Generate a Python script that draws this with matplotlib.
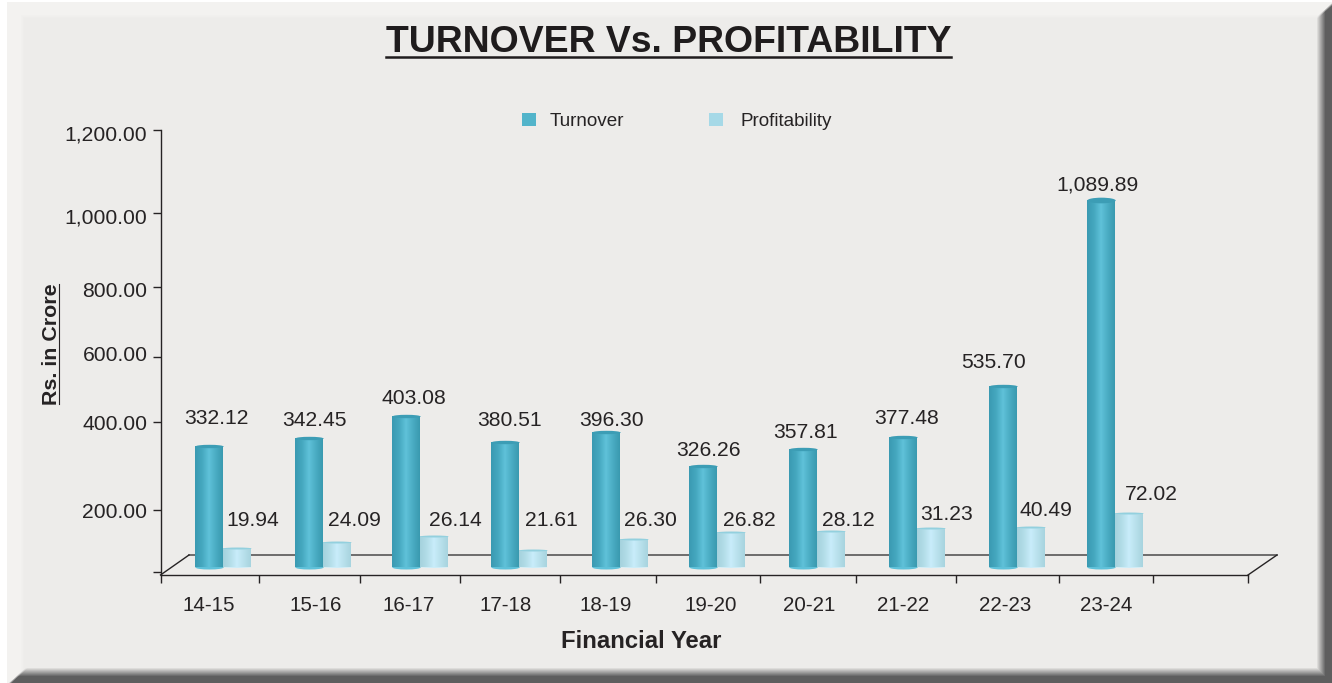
import numpy as np
import matplotlib
matplotlib.use('Agg')
import matplotlib.pyplot as plt
from matplotlib.colors import LinearSegmentedColormap
from matplotlib.lines import Line2D
from matplotlib.markers import MarkerStyle
from matplotlib.patches import Patch
from matplotlib.transforms import Affine2D, ScaledTranslation

plt.rcParams['font.family'] = ['Liberation Sans', 'DejaVu Sans']

# %%
years = ['14-15', '15-16', '16-17', '17-18', '18-19', '19-20', '20-21', '21-22', '22-23', '23-24']
turnover = [332.12, 342.45, 403.08, 380.51, 396.30, 326.26, 357.81, 377.48, 535.70, 1089.89]
profitability = [19.94, 24.09, 26.14, 21.61, 26.30, 26.82, 28.12, 31.23, 40.49, 72.02]

# the bars in the source don't follow the printed numbers, so these are
# the bar tops as read against its y axis
turnover_bar_tops = [345.5, 363.6, 418.5, 355.2, 377.3, 300.0, 338.6, 365.9, 510.8, 1031.3]
profitability_bar_tops = [77.4, 97.7, 116.1, 71.0, 106.5, 129.0, 133.2, 141.9, 145.2, 190.3]
bar_base = 16.1

y_ticks = [0, 200, 400, 600, 800, 1000, 1200]

# %%
# layout, in pixels of the 1332x683 picture
W, H = 1332, 683
text_col = '#262324'
axis_values = [-10, 0, 200, 400, 600, 800, 1000, 1200]
axis_heights = [-3, 0, 62, 150, 215, 285, 359, 442]   # the source axis is uneven
y_label_shift_px = [0, 0, 1, -3.4, 2.6, 3, 3]
x_ticks_px = [160.5, 259, 360, 460, 560.3, 655.7, 760.3, 855.7, 956, 1059, 1153, 1248]
year_label_px = [208.5, 316, 409, 505.5, 606, 710.5, 809, 903, 1005, 1106]
bar_nudge_px = np.array([0, 1, -1, -1, 1, -1, 0, 1, 2, 1])
turnover_label_px = [(216, 418), (314, 420), (414, 399), (509, 420), (611, 420),
                     (708, 451), (805, 432), (907, 418), (994, 363), (1098, 185)]
profit_label_px = [(253, 520), (354, 520), (455, 520), (551, 520), (650, 520),
                   (749, 520), (848, 520), (947, 515), (1046, 510), (1151, 494)]


def fx(px):
    return px / W


def fy(py):
    return 1 - py / H


def to_x(px):
    return (np.asarray(px, dtype=float) - 223) / 99


# %%
fig = plt.figure(figsize=(W / 100, H / 100), dpi=100)

# bevelled panel behind the chart
yy, xx = np.mgrid[0:H, 0:W].astype(float)
bg = np.zeros((H, W, 3)) + np.array([237, 236, 234])
band = np.maximum(np.clip((24 - xx) / 4, 0, 1), np.clip((18 - yy) / 4, 0, 1))
bg += band[..., None] * 6
bg[(xx < 7) | (yy < 2)] = 255
right = np.clip((xx - 1316) / 9, 0, 1) * np.clip((yy - (18 - (xx - 1314) * 0.9)) / 3, 0, 1)
bottom = np.clip((yy - 667) / 9, 0, 1) * np.clip((xx - (24 - (yy - 668) * 1.1)) / 3, 0, 1)
dark = np.maximum(right, bottom)[..., None]
bg = bg * (1 - dark) + np.array([94, 94, 94]) * dark
fig.figimage(bg / 255, 0, 0, origin='upper', zorder=-5)

ax = fig.add_axes([fx(160.5), fy(575), fx(1248 - 160.5), (575 - 130) / H])
ax.patch.set_visible(False)
ax.set_yscale('function', functions=(
    lambda v: np.interp(v, axis_values, axis_heights),
    lambda h: np.interp(h, axis_heights, axis_values)))
ax.set_ylim(-10, 1200)
ax.set_xlim(to_x(160.5), to_x(1248))

# floor, behind the axes so the bars cover it
floor_back = dict(color='#4a4a4a', lw=1.1, zorder=-1)
floor_edge = dict(color=text_col, lw=1.0, zorder=-1)
fig.add_artist(Line2D([fx(189), fx(1277)], [fy(555), fy(555)], **floor_back))
fig.add_artist(Line2D([fx(160.5), fx(189)], [fy(575), fy(555)], **floor_edge))
fig.add_artist(Line2D([fx(1248), fx(1277)], [fy(575), fy(555)], **floor_edge))

# %%
turnover_cmap = LinearSegmentedColormap.from_list(
    'turnover', ['#3a9ab2', '#45a8bf', '#5fc1d9', '#4aacc3', '#3a9ab0'])
profit_cmap = LinearSegmentedColormap.from_list(
    'profit', ['#a5d2dd', '#b3dde8', '#c8ecfa', '#b8e0eb', '#a8d4df'])


def cylinders(left, tops, cmap, cap_col, z, squash, base_squash):
    n = 28
    w = 28.3 / 99
    for x0, top, sq in zip(left, tops, squash):
        xs = x0 + (np.arange(n) + 0.5) * w / n
        cap = MarkerStyle('o', transform=Affine2D().scale(1, sq))
        foot = MarkerStyle('o', transform=Affine2D().scale(1, base_squash))
        ax.plot([x0 + w / 2], [bar_base], marker=foot, ms=20.4, mew=0, color=cmap(0.5), zorder=z)
        ax.bar(xs, top - bar_base, width=w / n * 1.15, bottom=bar_base,
               color=cmap(np.linspace(0, 1, n)), linewidth=0, antialiased=False, zorder=z + 0.1)
        ax.plot([x0 + w / 2], [top], marker=cap, ms=20.4, mew=0, color=cap_col, zorder=z + 0.2)


x = np.arange(len(years)) + bar_nudge_px / 99
cylinders(x - 28.3 / 99, turnover_bar_tops, turnover_cmap, '#3c9db5', 3,
          [0.12] * 9 + [0.2], 0.14)
cylinders(x, profitability_bar_tops, profit_cmap, '#93d0de', 2, [0.07] * 10, 0.03)

# %%
for v, (px, py) in zip(turnover, turnover_label_px):
    fig.text(fx(px), fy(py), f'{v:,.2f}', ha='center', va='center', fontsize=15.2, color=text_col)
for v, (px, py) in zip(profitability, profit_label_px):
    fig.text(fx(px), fy(py), f'{v:,.2f}', ha='center', va='center', fontsize=15.2, color=text_col)

# %%
for s in ['top', 'right']:
    ax.spines[s].set_visible(False)
for s in ['left', 'bottom']:
    ax.spines[s].set_color(text_col)
    ax.spines[s].set_linewidth(1.0)

ax.set_yticks(y_ticks, [f'{v:,.2f}' if v else '' for v in y_ticks])
ax.tick_params(axis='y', length=5.8, width=1.0, pad=3.6, color=text_col,
               labelcolor=text_col, labelsize=15.2)
for lab, d in zip(ax.get_yticklabels(), y_label_shift_px):
    lab.set_transform(lab.get_transform() + ScaledTranslation(0, -d / 100, fig.dpi_scale_trans))
ax.set_xticks(to_x(x_ticks_px), [''] * len(x_ticks_px))
ax.tick_params(axis='x', which='major', length=5.8, width=1.0, color=text_col)
ax.set_xticks(to_x(year_label_px), years, minor=True)
ax.tick_params(axis='x', which='minor', length=0, pad=15, labelcolor=text_col, labelsize=14.8)

ax.set_xlabel('Financial Year', fontsize=17.2, fontweight='bold', color=text_col)
ax.xaxis.set_label_coords((641.5 - 160.5) / 1087.5, (575 - 642) / 445, transform=ax.transAxes)
ax.xaxis.label.set_va('center')
ax.set_ylabel('Rs. in Crore', fontsize=15.4, fontweight='bold', color=text_col)
ax.yaxis.set_label_coords((52 - 160.5) / 1087.5, (575 - 344) / 445, transform=ax.transAxes)
ax.yaxis.label.set_va('center')
fig.add_artist(Line2D([fx(58.5), fx(58.5)], [fy(404), fy(284)], color=text_col, lw=0.8))

fig.text(fx(668.5), fy(42.5), 'TURNOVER Vs. PROFITABILITY', ha='center', va='center',
         fontsize=26.9, fontweight='bold', color='#1f1c1d')
fig.add_artist(Line2D([fx(386), fx(951)], [fy(56.7), fy(56.7)], color='#1f1c1d', lw=1.8))

# two one-entry legends, the gaps after the swatches differ in the source
legend_items = [('Turnover', '#52b4ca', 522, 0.70), ('Profitability', '#a6d9e7', 709, 0.93)]
for name, col, left_px, pad in legend_items:
    fig.legend([Patch(color=col, lw=0)], [name], loc='center left',
               bbox_to_anchor=(fx(left_px), fy(121.5)), frameon=False, fontsize=13.6,
               labelcolor=text_col, handlelength=0.74, handleheight=0.74, handletextpad=pad,
               borderpad=0, borderaxespad=0)

fig.savefig('out.png', dpi=100)
